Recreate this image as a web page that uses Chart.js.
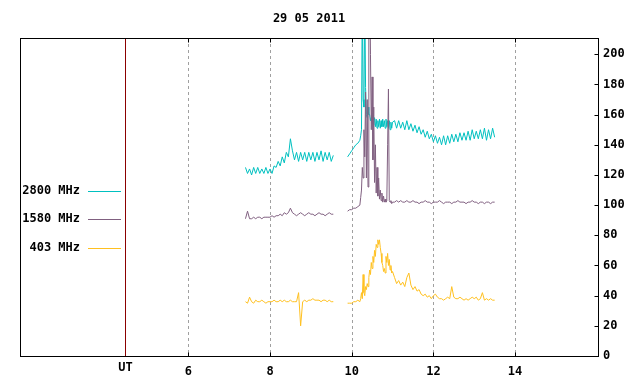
<!DOCTYPE html>
<html lang="en">

<head>
    <meta charset="UTF-8">
    <title>29 05 2011</title>
    <script src="https://cdn.jsdelivr.net/npm/chart.js"></script>
    <style>
        body {
            margin: 0;
            background: #fff;
        }

        canvas {
            display: block;
        }
    </style>
</head>

<body>
    <canvas id="myChart" width="640" height="384"></canvas>
</body>

</html>
<script>
    const chartTitle = '29 05 2011';
    const seriesNames = ['2800 MHz', '1580 MHz', '403 MHz'];
    const xTicks = [6, 8, 10, 12, 14];
    const yTicks = [0, 20, 40, 60, 80, 100, 120, 140, 160, 180, 200];
    const utLabel = 'UT';
    const utHour = 4.46;

    // UT hours, morning run then the run after the gap
    const tA = [
        7.40, 7.45, 7.50, 7.55, 7.60, 7.65, 7.70, 7.75, 7.80, 7.85,
        7.90, 7.95, 8.00, 8.05, 8.10, 8.15, 8.20, 8.25, 8.30, 8.35,
        8.40, 8.45, 8.50, 8.55, 8.60, 8.65, 8.70, 8.75, 8.80, 8.85,
        8.90, 8.95, 9.00, 9.05, 9.10, 9.15, 9.20, 9.25, 9.30, 9.35,
        9.40, 9.45, 9.50, 9.55
    ];
    const tB = [
        9.90, 9.95, 10.00, 10.05, 10.10, 10.15,
        10.20, 10.22, 10.24, 10.26, 10.28, 10.30, 10.32, 10.34, 10.36, 10.38,
        10.40, 10.42, 10.44, 10.46, 10.48, 10.50, 10.52, 10.54, 10.56, 10.58,
        10.60, 10.62, 10.64, 10.66, 10.68, 10.70, 10.72, 10.74, 10.76, 10.78,
        10.80, 10.82, 10.84, 10.86, 10.88, 10.90, 10.92, 10.94, 10.96, 10.98,
        11.00,
        11.05, 11.10, 11.15, 11.20, 11.25, 11.30, 11.35, 11.40, 11.45, 11.50,
        11.55, 11.60, 11.65, 11.70, 11.75, 11.80, 11.85, 11.90, 11.95, 12.00,
        12.05, 12.10, 12.15, 12.20, 12.25, 12.30, 12.35, 12.40, 12.45, 12.50,
        12.55, 12.60, 12.65, 12.70, 12.75, 12.80, 12.85, 12.90, 12.95, 13.00,
        13.05, 13.10, 13.15, 13.20, 13.25, 13.30, 13.35, 13.40, 13.45, 13.50
    ];

    const f2800A = [
        125, 121, 124, 120, 125, 121, 125, 121, 124, 121,
        125, 121, 124, 121, 126, 125, 129, 126, 132, 128,
        135, 132, 144, 136, 130, 135, 129, 135, 130, 135,
        129, 135, 130, 135, 129, 135, 130, 136, 129, 135,
        130, 135, 129, 133
    ];
    const f2800B = [
        132, 134, 136, 138, 140, 141,
        143, 146, 150, 240, 170, 165, 240, 178, 160, 158,
        165, 160, 160, 156, 158, 154, 160, 153, 158, 152,
        157, 151, 156, 152, 157, 151, 156, 152, 157, 152,
        156, 151, 157, 152, 156, 151, 156, 150, 155, 151,
        155,
        156, 151, 156, 151, 155, 150, 156, 150, 154, 149,
        153, 148, 152, 147, 150, 145, 149, 144, 147, 142,
        146, 141, 145, 140, 146, 140, 146, 141, 147, 142,
        147, 142, 148, 143, 148, 143, 149, 143, 150, 144,
        149, 144, 150, 144, 151, 143, 150, 144, 151, 145
    ];

    const f1580A = [
        91, 96, 91, 91, 92, 91, 92, 92, 91, 92,
        92, 92, 92, 93, 92, 93, 93, 94, 93, 95,
        94, 95, 98, 95, 94, 93, 94, 95, 94, 93,
        94, 95, 94, 94, 93, 94, 95, 94, 94, 93,
        94, 95, 94, 94
    ];
    const f1580B = [
        96, 97, 97, 98, 98, 99,
        100, 105, 110, 125, 118, 150, 132, 175, 118, 170,
        112, 240, 260, 200, 150, 185, 130, 165, 115, 140,
        108, 125, 106, 118, 104, 110, 103, 108, 102, 106,
        102, 104, 102, 103, 140, 177, 103, 102, 103, 101,
        102,
        102, 103, 102, 103, 102, 102, 103, 102, 102, 103,
        102, 102, 101, 102, 102, 103, 102, 102, 101, 102,
        102, 102, 103, 102, 101, 102, 102, 102, 101, 102,
        102, 103, 102, 102, 102, 101, 102, 102, 103, 102,
        102, 101, 102, 102, 101, 102, 102, 101, 102, 102
    ];

    const f403A = [
        36, 35, 39, 36, 35, 37, 36, 36, 37, 36,
        35, 36, 36, 36, 37, 36, 36, 37, 36, 37,
        36, 36, 37, 36, 36, 36, 42, 20, 36, 37,
        36, 37, 37, 38, 37, 37, 37, 36, 37, 37,
        36, 37, 36, 36
    ];
    const f403B = [
        35, 35, 35, 36, 36, 37,
        36, 38, 42, 38, 54, 42, 40, 46, 44, 48,
        46, 52, 57, 54, 62, 58, 66, 62, 70, 66,
        74, 72, 77, 74, 77, 72, 68, 62, 60, 56,
        58, 55, 66, 62, 68, 60, 64, 57, 60, 55,
        56,
        52, 48, 50, 47, 49, 46, 52, 55, 47, 44,
        46, 43, 44, 41, 40, 41, 39, 40, 38, 40,
        41, 39, 38, 38, 37, 38, 39, 38, 46, 39,
        38, 38, 39, 38, 37, 38, 37, 38, 39, 38,
        39, 37, 38, 42, 37, 38, 37, 38, 37, 37
    ];

    const colors = ['#00c0c0', '#806080', '#ffc020'];
    const monoFont = 'bold 12px "DejaVu Sans Mono", "Liberation Mono", monospace';

    function series(a, b) {
        const pts = tA.map((t, i) => ({ x: t, y: a[i] }));
        pts.push({ x: 9.7, y: null });
        return pts.concat(tB.map((t, i) => ({ x: t, y: b[i] })));
    }

    function hline(ctx, x1, x2, y) {
        ctx.beginPath();
        ctx.moveTo(x1, y);
        ctx.lineTo(x2, y);
        ctx.stroke();
    }

    function vline(ctx, x, y1, y2) {
        ctx.beginPath();
        ctx.moveTo(x, y1);
        ctx.lineTo(x, y2);
        ctx.stroke();
    }

    const framePlugin = {
        id: 'frame',
        beforeDatasetsDraw(chart) {
            const { ctx, chartArea: a, scales: { x } } = chart;
            ctx.save();
            ctx.lineWidth = 1;
            ctx.strokeStyle = '#a0a0a0';
            ctx.setLineDash([3, 3]);
            xTicks.forEach(v => {
                const px = Math.round(x.getPixelForValue(v)) + 0.5;
                vline(ctx, px, a.top, a.bottom);
            });
            ctx.setLineDash([]);
            ctx.strokeStyle = '#8b0000';
            const ux = Math.round(x.getPixelForValue(utHour)) + 0.5;
            vline(ctx, ux, a.top, a.bottom);
            ctx.restore();
        },
        afterDraw(chart) {
            const { ctx, chartArea: a, scales: { x, y } } = chart;
            const L = Math.round(a.left) + 0.5, R = Math.round(a.right) + 0.5;
            const T = Math.round(a.top) + 0.5, B = Math.round(a.bottom) + 0.5;
            ctx.save();
            ctx.lineWidth = 1;
            ctx.strokeStyle = '#000';
            ctx.strokeRect(L, T, R - L, B - T);

            // small ticks inside the frame
            xTicks.forEach(v => {
                const px = Math.round(x.getPixelForValue(v)) + 0.5;
                vline(ctx, px, B, B - 4);
                vline(ctx, px, T, T + 4);
            });
            yTicks.forEach(v => {
                const py = Math.round(y.getPixelForValue(v)) + 0.5;
                hline(ctx, R - 4, R, py);
            });

            ctx.fillStyle = '#000';
            ctx.font = monoFont;
            ctx.textBaseline = 'middle';
            ctx.textAlign = 'center';
            ctx.fillText(chartTitle, (a.left + a.right) / 2, 19);
            ctx.fillText(utLabel, x.getPixelForValue(utHour), 368);

            // legend
            const legendY = [191, 219, 248];
            seriesNames.forEach((name, i) => {
                ctx.textAlign = 'right';
                ctx.fillStyle = '#000';
                ctx.fillText(name, 80, legendY[i]);
                ctx.strokeStyle = colors[i];
                hline(ctx, 88, 121, legendY[i] + 0.5);
            });
            ctx.restore();
        }
    };

    const ctx = document.getElementById('myChart').getContext('2d');

    new Chart(ctx, {
        type: 'line',
        data: {
            datasets: [
                { label: seriesNames[1], data: series(f1580A, f1580B), borderColor: colors[1] },
                { label: seriesNames[0], data: series(f2800A, f2800B), borderColor: colors[0] },
                { label: seriesNames[2], data: series(f403A, f403B), borderColor: colors[2] }
            ]
        },
        options: {
            responsive: false,
            animation: false,
            spanGaps: false,
            elements: {
                point: { radius: 0 },
                line: { borderWidth: 1, tension: 0, fill: false }
            },
            layout: { padding: { left: 20, top: 38, right: 0, bottom: 0 } },
            plugins: {
                legend: { display: false },
                tooltip: { enabled: false }
            },
            scales: {
                x: {
                    type: 'linear',
                    min: 1.88,
                    max: 16.03,
                    afterBuildTicks: s => { s.ticks = xTicks.map(v => ({ value: v })); },
                    afterFit: s => { s.height = 28; },
                    grid: { display: false, drawTicks: false },
                    border: { display: false },
                    ticks: {
                        padding: 9,
                        color: '#000',
                        maxRotation: 0,
                        autoSkip: false,
                        font: { family: '"DejaVu Sans Mono", monospace', size: 12, weight: 'bold' }
                    }
                },
                y: {
                    position: 'right',
                    min: 0,
                    max: 210.8,
                    afterBuildTicks: s => { s.ticks = yTicks.map(v => ({ value: v })); },
                    afterFit: s => { s.width = 42; },
                    grid: { display: false, drawTicks: false },
                    border: { display: false },
                    ticks: {
                        padding: 5,
                        color: '#000',
                        font: { family: '"DejaVu Sans Mono", monospace', size: 12, weight: 'bold' }
                    }
                }
            }
        },
        plugins: [framePlugin]
    });
</script>
